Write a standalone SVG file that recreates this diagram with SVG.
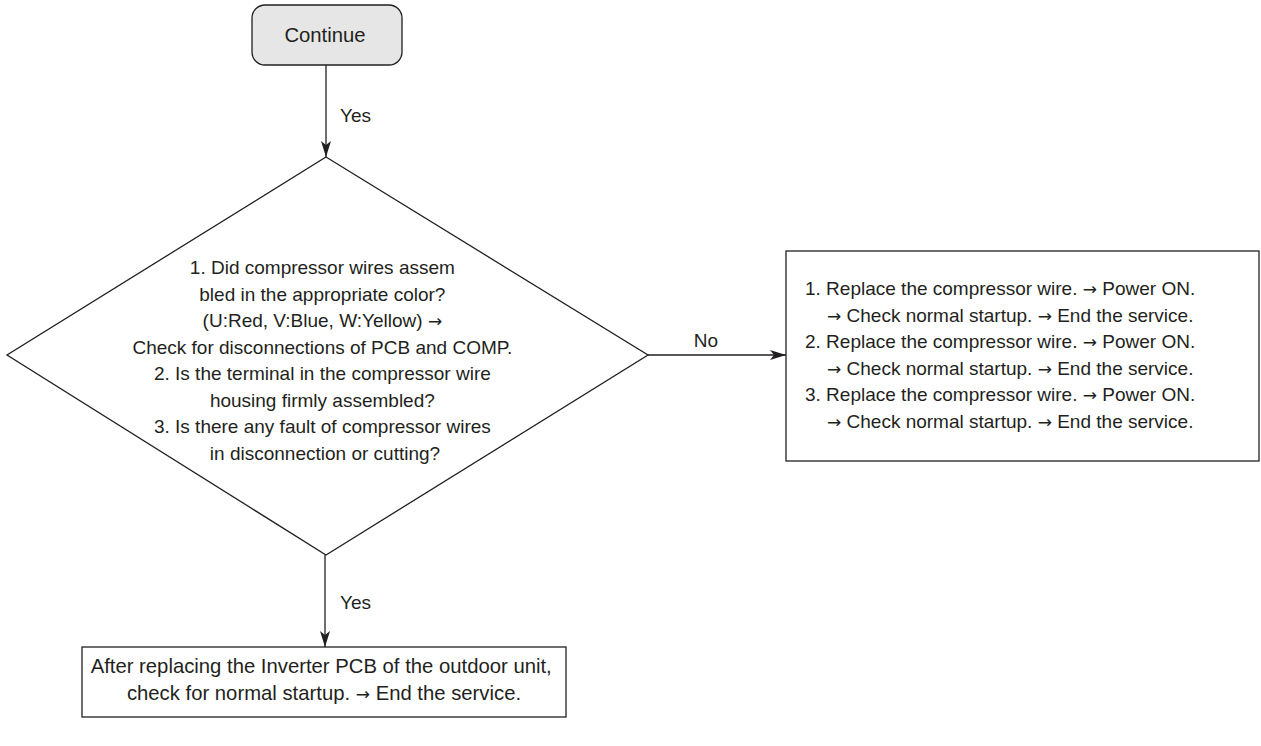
<svg xmlns="http://www.w3.org/2000/svg" width="1261" height="746" viewBox="0 0 1261 746">
<style>
.s{fill:#fff;stroke:#231f20;stroke-width:1.3}
.t{font-family:"Liberation Sans",Arial,sans-serif;font-size:19px;fill:#231f20}
.b{font-size:20.3px}
.c{text-anchor:middle}
.a{font-family:"DejaVu Sans",sans-serif;font-size:17px}
.e{stroke:#231f20;stroke-width:1.3;fill:none}
</style>
<defs>
<marker id="ah" viewBox="0 0 16 10" refX="16" refY="5" markerWidth="16" markerHeight="10" markerUnits="userSpaceOnUse" orient="auto">
<path d="M0,0 L16,5 L0,10 L4,5 Z" fill="#231f20"/>
</marker>
</defs>
<rect width="1261" height="746" fill="#fff"/>
<g id="connectors">
<line class="e" x1="326" y1="65" x2="326" y2="157" marker-end="url(#ah)"/>
<text class="t" x="340" y="122">Yes</text>
<line class="e" x1="648" y1="355" x2="786" y2="355" marker-end="url(#ah)"/>
<text class="t c" x="706" y="347">No</text>
<line class="e" x1="325" y1="555" x2="325" y2="647" marker-end="url(#ah)"/>
<text class="t" x="340" y="609">Yes</text>
</g>
<g id="continue">
<rect x="252" y="5" width="150" height="60" rx="13" fill="#e6e6e6" stroke="#231f20" stroke-width="1.3"/>
<text class="t c b" x="325" y="42">Continue</text>
</g>
<g id="decision">
<polygon class="s" points="326,157 648,355 326,555 7,355"/>
<text class="t c">
<tspan x="325" y="274">1. Did compressor wires assem</tspan>
<tspan x="325" y="300.5">bled in the appropriate color?</tspan>
<tspan x="325" y="327">(U:Red, V:Blue, W:Yellow) <tspan class="a">→</tspan></tspan>
<tspan x="325" y="353.5">Check for disconnections of PCB and COMP.</tspan>
<tspan x="325" y="380">2. Is the terminal in the compressor wire</tspan>
<tspan x="325" y="406.5">housing firmly assembled?</tspan>
<tspan x="325" y="433">3. Is there any fault of compressor wires</tspan>
<tspan x="325" y="459.5">in disconnection or cutting?</tspan>
</text>
</g>
<g id="replace-wire">
<rect class="s" x="786" y="251" width="473" height="210"/>
<text class="t">
<tspan x="805" y="295">1. Replace the compressor wire. <tspan class="a">→</tspan> Power ON.</tspan>
<tspan x="827" y="321.5"><tspan class="a">→</tspan> Check normal startup. <tspan class="a">→</tspan> End the service.</tspan>
<tspan x="805" y="348">2. Replace the compressor wire. <tspan class="a">→</tspan> Power ON.</tspan>
<tspan x="827" y="374.5"><tspan class="a">→</tspan> Check normal startup. <tspan class="a">→</tspan> End the service.</tspan>
<tspan x="805" y="401">3. Replace the compressor wire. <tspan class="a">→</tspan> Power ON.</tspan>
<tspan x="827" y="427.5"><tspan class="a">→</tspan> Check normal startup. <tspan class="a">→</tspan> End the service.</tspan>
</text>
</g>
<g id="replace-pcb">
<rect class="s" x="82" y="647" width="484" height="70"/>
<text class="t c b">
<tspan x="324" y="673">After replacing the Inverter PCB of the outdoor unit,</tspan>
<tspan x="324" y="699.5">check for normal startup. <tspan class="a">→</tspan> End the service.</tspan>
</text>
</g>
</svg>
